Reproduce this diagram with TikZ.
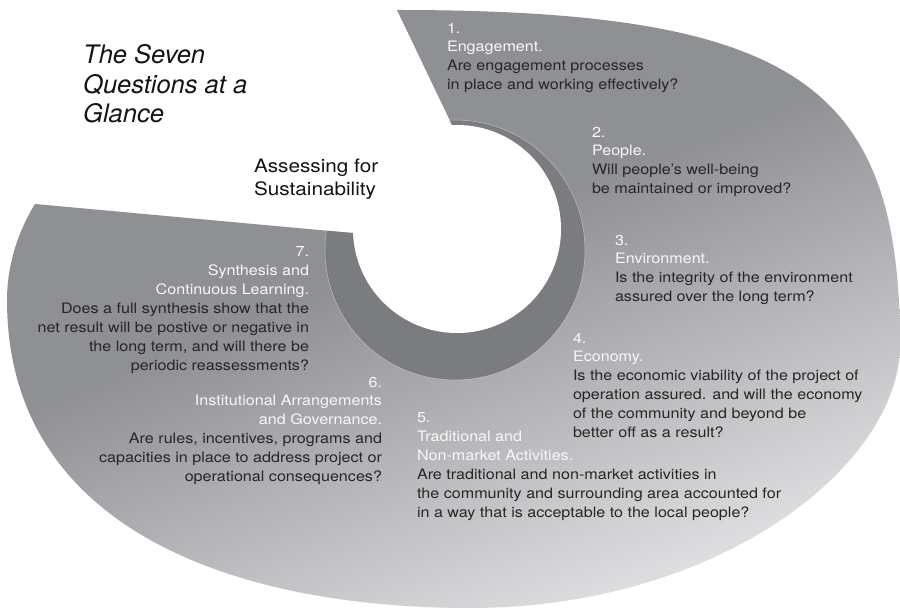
\documentclass[tikz,border=0pt]{standalone}
\usepackage{fontspec}
\setmainfont{TeX Gyre Heros}[FakeStretch=1.12]
\newfontfamily\titlefont{TeX Gyre Heros}
\definecolor{spiralBase}{HTML}{8F9094}
\definecolor{spiralLite}{HTML}{E9E9EB}
\definecolor{spiralCore}{HTML}{7B7C80}
\definecolor{qDark}{HTML}{262626}
\definecolor{qLight}{HTML}{F7F7F7}
\pgfdeclareverticalshading{spiralFade}{100bp}{color(0bp)=(spiralLite); color(22bp)=(spiralLite); color(55bp)=(spiralBase); color(100bp)=(spiralBase)}
\tikzset{
    qText/.style={inner sep=0pt, outer sep=0pt, text=qDark, font=\fontsize{14.4}{18.9}\selectfont},
    qLeft/.style={qText, anchor=north west, align=left},
    qRight/.style={qText, anchor=north east, align=right},
}
\newcommand{\qHead}[1]{\textcolor{qLight}{#1}}
% outline of the spiral, open wedge at the upper left
\newcommand{\spiralOutline}{(452,485) -- (397,600)
    .. controls (797,600) and (900,525) .. (900,265)
    .. controls (900,145) and (720,2) .. (470,2)
    .. controls (234,2) and (7,81) .. (7,310)
    .. controls (7,348) and (20,382) .. (35,406)
    -- (352,377) -- (457,381) -- cycle}
\begin{document}
\begin{tikzpicture}[x=1pt, y=1pt]
    \useasboundingbox (0,0) rectangle (900,610);

    % spiral body
    \shade[shading=spiralFade, shading angle=22] \spiralOutline;
    \begin{scope}
        \clip \spiralOutline;
        \fill[spiralCore, even odd rule] (455,360) circle (130) (457,381) circle (104);
        \draw[white, opacity=.45, line width=.5pt] (455,360) circle (130);
    \end{scope}
    \fill[white] (457,381) circle (104);

    % titles
    \node[anchor=north west, inner sep=0pt, align=left, text=black!92,
          font=\titlefont\itshape\fontsize{25.5}{29.5}\selectfont] (title) at (83,565.3)
        {The Seven\\Questions at a\\Glance};
    \node[qLeft, text=black!92, font=\fontsize{18.5}{23}\selectfont] (hub) at (254,451.5)
        {Assessing for\\Sustainability};

    % the seven questions
    \node[qLeft] (q1) at (447,587.2)
        {\qHead{1.}\\\qHead{Engagement.}\\Are engagement processes\\in place and working effectively?};
    \node[qLeft] (q2) at (592,483.2)
        {\qHead{2.}\\\qHead{People.}\\Will people's well-being\\be maintained or improved?};
    \node[qLeft] (q3) at (615,375.2)
        {\qHead{3.}\\\qHead{Environment.}\\Is the integrity of the environment\\assured over the long term?};
    \node[qLeft] (q4) at (573,277.2)
        {\qHead{4.}\\\qHead{Economy.}\\Is the economic viability of the project of\\operation assured. and will the economy\\of the community and beyond be\\better off as a result?};
    \node[qLeft] (q5) at (417,197.2)
        {\qHead{5.}\\\qHead{Traditional and}\\\qHead{Non-market Activities.}\\Are traditional and non-market activities in\\the community and surrounding area accounted for\\in a way that is acceptable to the local people?};
    \node[qRight] (q6) at (382,233.2)
        {\qHead{6.}\\\qHead{Institutional Arrangements}\\\qHead{and Governance.}\\Are rules, incentives, programs and\\capacities in place to address project or\\operational consequences?};
    \node[qRight] (q7) at (309,363.2)
        {\qHead{7.}\\\qHead{Synthesis and}\\\qHead{Continuous Learning.}\\Does a full synthesis show that the\\net result will be postive or negative in\\the long term, and will there be\\periodic reassessments?};

\end{tikzpicture}
\end{document}
